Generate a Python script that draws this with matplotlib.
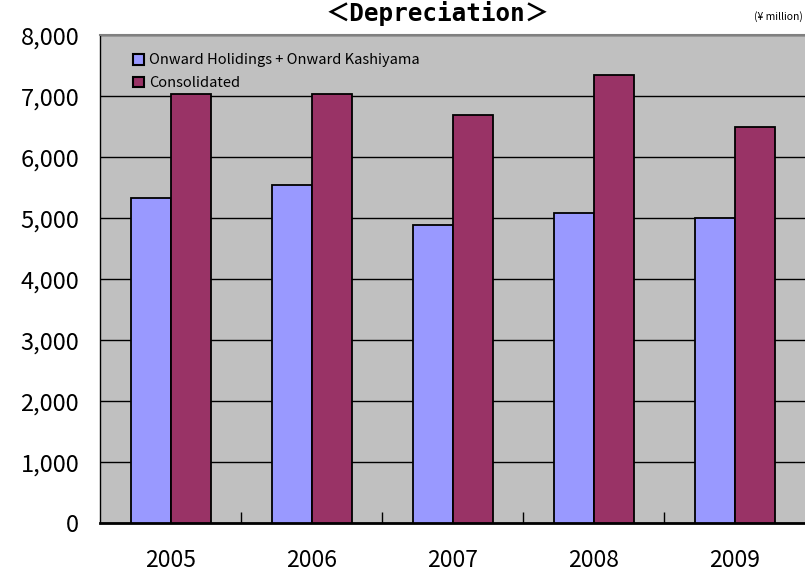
import matplotlib
matplotlib.use("Agg")
import matplotlib.pyplot as plt
import numpy as np
from matplotlib.patches import Patch

years = ["2005", "2006", "2007", "2008", "2009"]
onward = [5330, 5545, 4890, 5095, 5000]
consolidated = [7035, 7040, 6700, 7355, 6500]
series_names = ["Onward Holidings + Onward Kashiyama", "Consolidated"]
yticks = [0, 1000, 2000, 3000, 4000, 5000, 6000, 7000, 8000]

plt.rcParams['font.family'] = ['Noto Sans CJK JP', 'DejaVu Sans']

fig = plt.figure(figsize=(8.05, 5.73), dpi=100)
ax = fig.add_axes([100/805, 49.7/573, 705/805, 487.9/573])
ax.set_facecolor('#C0C0C0')

x = np.arange(len(years))
w = 40/141
ax.bar(x - w/2, onward, width=w, color='#9999FF', edgecolor='black', linewidth=1.3, zorder=3)
ax.bar(x + w/2, consolidated, width=w, color='#993366', edgecolor='black', linewidth=1.3, zorder=3)

ax.set_xlim(-0.5, len(years) - 0.5)
ax.set_ylim(0, 8000)
ax.set_yticks(yticks)
ax.set_yticklabels([f"{v:,}" for v in yticks], fontsize=17)
ax.yaxis.grid(True, color='black', linewidth=1.0, zorder=1)
ax.set_axisbelow(True)
ax.tick_params(axis='y', length=0, pad=15)

ax.set_xticks(x)
ax.set_xticklabels(years, fontsize=16.5)
ax.tick_params(axis='x', length=0, pad=18.5)
ax.set_xticks(np.arange(len(years) - 1) + 0.5, minor=True)
ax.tick_params(axis='x', which='minor', direction='in', length=8, width=1, color='black')

for s in ['left', 'bottom']:
    ax.spines[s].set_color('black')
ax.spines['left'].set_linewidth(1.0)
ax.spines['bottom'].set_linewidth(2.0)
ax.spines['top'].set_color('#808080')
ax.spines['top'].set_linewidth(1.5)
ax.spines['right'].set_visible(False)

handles = [Patch(facecolor='#9999FF', edgecolor='black', linewidth=1.5),
           Patch(facecolor='#993366', edgecolor='black', linewidth=1.5)]
ax.legend(handles, series_names, loc='upper left', bbox_to_anchor=(0.038, 0.975),
          frameon=False, fontsize=10.5, handlelength=0.75, handleheight=0.75,
          handletextpad=0.35, labelspacing=0.6, borderaxespad=0)

fig.text(438/805, 1 - 13/573, "＜Depreciation＞", ha='center', va='center',
         fontsize=17.5, fontweight='bold', family=['DejaVu Sans Mono', 'Noto Sans CJK JP'])
fig.text(803/805, 1 - 17/573, "(¥ million)", ha='right', va='center', fontsize=7.5)

fig.savefig("out.png", dpi=100)
